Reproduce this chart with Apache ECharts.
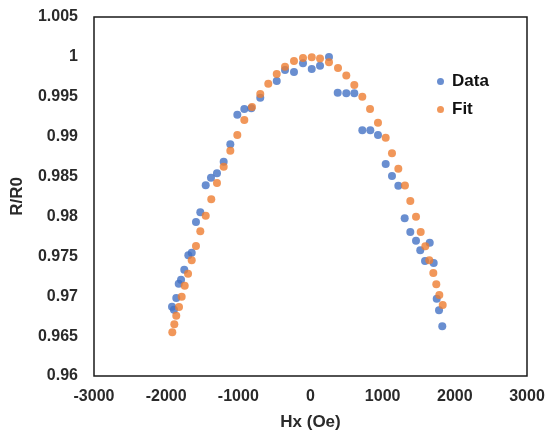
<!DOCTYPE html>
<html>
<head>
<meta charset="utf-8">
<script src="https://cdn.jsdelivr.net/npm/echarts@6/dist/echarts.min.js"></script>
<style>html,body{margin:0;padding:0;background:#fff}#c{width:549px;height:440px}</style>
</head>
<body>
<div id="c"></div>
<script>
const dataHx = [-1919,-1892,-1860,-1826,-1794,-1749,-1693,-1646,-1587,-1527,-1452,-1379,-1296,-1203,-1111,-1014,-917,-820,-696,-468,-353,-229,-104,17,132,256,377,496,607,718,829,935,1042,1129,1217,1305,1383,1462,1521,1587,1652,1707,1749,1781,1826];
const dataR = [0.96869,0.96831,0.96978,0.97157,0.97207,0.97332,0.97513,0.97545,0.97930,0.98052,0.98390,0.98486,0.98541,0.98686,0.98904,0.99275,0.99347,0.99356,0.99488,0.99698,0.99836,0.99811,0.99920,0.99848,0.99890,0.99999,0.99551,0.99544,0.99544,0.99080,0.99080,0.99021,0.98657,0.98507,0.98385,0.97977,0.97805,0.97696,0.97576,0.97442,0.97671,0.97416,0.96969,0.96823,0.96623];
const fitHx = [-1915,-1887,-1860,-1822,-1785,-1743,-1697,-1646,-1587,-1527,-1452,-1375,-1296,-1203,-1111,-1014,-917,-811,-696,-585,-468,-353,-229,-104,17,132,256,381,496,607,718,825,935,1042,1129,1217,1309,1383,1462,1527,1591,1646,1702,1743,1785,1832];
const fitR = [0.96548,0.96648,0.96756,0.96865,0.96994,0.97132,0.97282,0.97450,0.97629,0.97814,0.98009,0.98215,0.98419,0.98623,0.98824,0.99021,0.99209,0.99372,0.99535,0.99664,0.99785,0.99877,0.99948,0.99986,0.99995,0.99980,0.99932,0.99861,0.99767,0.99648,0.99501,0.99347,0.99175,0.98987,0.98791,0.98598,0.98388,0.98194,0.97997,0.97805,0.97626,0.97450,0.97291,0.97149,0.97015,0.96890];
const yTicks = ['0.96','0.965','0.97','0.975','0.98','0.985','0.99','0.995','1','1.005'];
const xTicks = ['-3000','-2000','-1000','0','1000','2000','3000'];

const font = 'Liberation Sans, Arial, sans-serif';
const chart = echarts.init(document.getElementById('c'), null, {renderer:'canvas'});
const zip = (a,b) => a.map((v,i)=>[v,b[i]]);
chart.setOption({
  animation:false,
  backgroundColor:'#fff',
  grid:{left:94,right:22,top:17,bottom:64,show:true,borderColor:'#1a1a1a',borderWidth:1.5,backgroundColor:'transparent'},
  xAxis:{type:'value',min:-3000,max:3000,interval:1000,
    name:'Hx (Oe)',nameLocation:'middle',nameGap:38,
    nameTextStyle:{fontFamily:font,fontWeight:'bold',fontSize:17,color:'#2a2a2a'},
    axisLine:{show:false},axisTick:{show:false},splitLine:{show:false},
    axisLabel:{margin:13,fontFamily:font,fontWeight:'bold',fontSize:16,color:'#2a2a2a',
      formatter:(v)=>{const i=Math.round((v+3000)/1000);return xTicks[i]!==undefined?xTicks[i]:'';}}},
  yAxis:{type:'value',min:0.96,max:1.005,interval:0.005,
    name:'R/R0',nameLocation:'middle',nameGap:68,
    nameTextStyle:{fontFamily:font,fontWeight:'bold',fontSize:17,color:'#2a2a2a'},
    axisLine:{show:false},axisTick:{show:false},splitLine:{show:false},
    axisLabel:{margin:16,fontFamily:font,fontWeight:'bold',fontSize:16,color:'#2a2a2a',
      formatter:(v)=>{const i=Math.round((v-0.96)/0.005);return yTicks[i]!==undefined?yTicks[i]:'';}}},
  legend:{orient:'vertical',left:437,top:73,padding:0,itemGap:11,itemWidth:7,itemHeight:7,
    textStyle:{fontFamily:font,fontWeight:'bold',fontSize:17,color:'#111',padding:[0,0,0,3]},
    data:[{name:'Data',icon:'circle'},{name:'Fit',icon:'circle'}]},
  series:[
    {name:'Data',type:'scatter',symbol:'circle',symbolSize:8,itemStyle:{color:'#4472C4'},data:zip(dataHx,dataR),z:2},
    {name:'Fit',type:'scatter',symbol:'circle',symbolSize:8,itemStyle:{color:'#ED7D31'},data:zip(fitHx,fitR),z:3}
  ]
});
</script>
</body>
</html>
